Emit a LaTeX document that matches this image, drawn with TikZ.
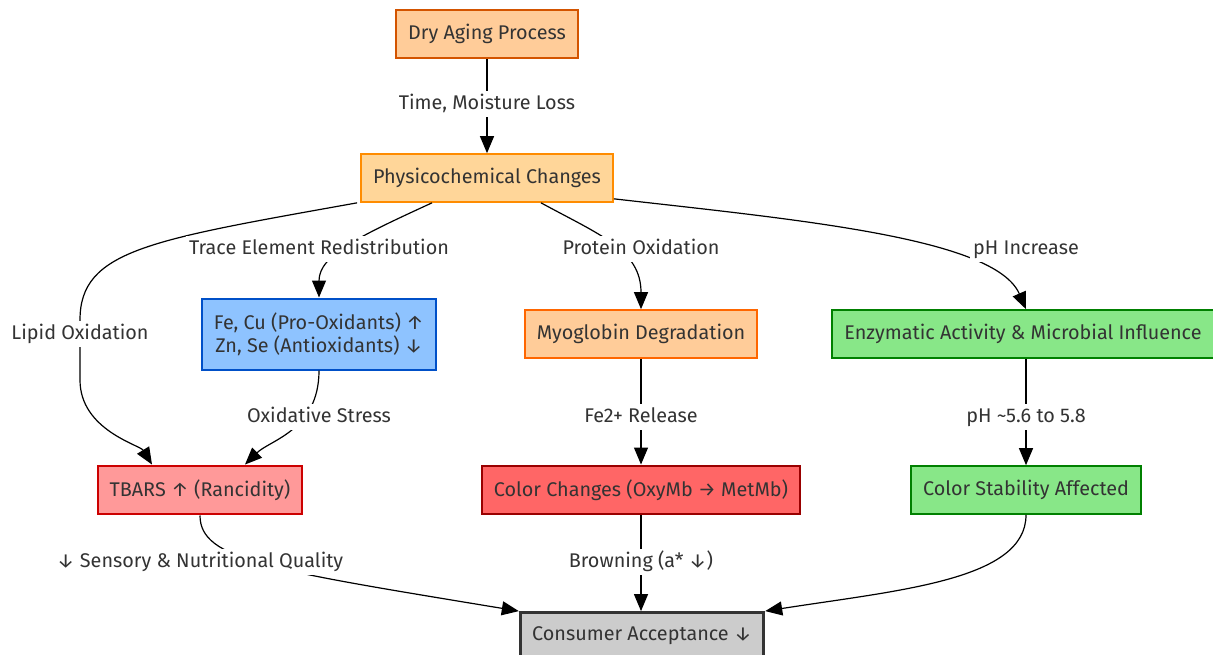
\documentclass[tikz,border=0pt]{standalone}
\usepackage{fontspec}
\setmainfont{Fira Sans}
\usetikzlibrary{arrows.meta, calc}

\definecolor{txtgray}{HTML}{333333}
\definecolor{peach}{HTML}{FFCC99}
\definecolor{peachlight}{HTML}{FFD699}
\definecolor{rust}{HTML}{D35400}
\definecolor{orangeline}{HTML}{FF8C00}
\definecolor{orangedark}{HTML}{FF6600}
\definecolor{skyfill}{HTML}{8EC3FF}
\definecolor{skyline}{HTML}{0050C8}
\definecolor{mintfill}{HTML}{88E788}
\definecolor{mintline}{HTML}{008000}
\definecolor{rosefill}{HTML}{FF9999}
\definecolor{roseline}{HTML}{CC0000}
\definecolor{redfill}{HTML}{FF6666}
\definecolor{redline}{HTML}{990000}
\definecolor{greyfill}{HTML}{CCCCCC}

\begin{document}
\begin{tikzpicture}[x=0.5pt, y=-0.5pt,
	box/.style={draw, line width=1pt, text=txtgray, font=\fontsize{9.9}{11.5}\selectfont,
		inner xsep=6pt, inner ysep=7pt, minimum height=23.5pt, align=center},
	lbl/.style={fill=white, text=txtgray, font=\fontsize{9.9}{11.5}\selectfont, inner sep=1.5pt,
		text height=7.5pt, text depth=2.3pt},
	arr/.style={-{Triangle[width=7pt,length=8.5pt]}, line width=0.6pt, black}]
	\useasboundingbox (0,0) rectangle (1213,654);
	% boxes
	\node[box, fill=peach, draw=rust] (dry) at (487,34) {Dry Aging Process};
	\node[box, fill=peachlight, draw=orangeline] (phys) at (487,178) {Physicochemical Changes};
	\node[box, fill=skyfill, draw=skyline] (trace) at (319,334) {Fe, Cu (Pro-Oxidants) ↑\\Zn, Se (Antioxidants) ↓};
	\node[box, fill=peach, draw=orangedark] (myo) at (641,334) {Myoglobin Degradation};
	\node[box, fill=mintfill, draw=mintline] (enz) at (1023,334) {Enzymatic Activity \& Microbial Influence};
	\node[box, fill=rosefill, draw=roseline] (tbars) at (200,490) {TBARS ↑ (Rancidity)};
	\node[box, fill=redfill, draw=redline] (color) at (641,490) {Color Changes (OxyMb → MetMb)};
	\node[box, fill=mintfill, draw=mintline] (stab) at (1026,490) {Color Stability Affected};
	\node[box, fill=greyfill, draw=txtgray, line width=1.4pt] (cons) at (642,636) {Consumer Acceptance ↓};
	% label spots
	\coordinate (lTime) at (487,104);
	\coordinate (lTrace) at (319,249);
	\coordinate (lProt) at (641,249);
	\coordinate (lPh) at (1026,249);
	\coordinate (lLipid) at (80,334);
	\coordinate (lStress) at (319,417);
	\coordinate (lFe) at (641,417);
	\coordinate (lRange) at (1026,417);
	\coordinate (lSens) at (200,562);
	\coordinate (lBrown) at (641,562);
	% connectors
	\draw[arr] (dry) -- (phys);
	\draw[arr] ($(phys.south)+(-55,0)$) .. controls (360,236) and (319,255) .. (trace.north);
	\draw[arr] ($(phys.south west)+(-3,0)$) .. controls (150,240) and (80,250) .. (80,320)
		-- (80,380) .. controls (80,430) and (140,445) .. ($(tbars.north)+(-48,0)$);
	\draw[arr] (trace.south) .. controls (319,430) and (270,440) .. ($(tbars.north)+(45,0)$);
	\draw[arr] ($(phys.south)+(54,0)$) .. controls (600,235) and (641,250) .. (myo.north);
	\draw[arr] ($(phys.south east)+(0,-4)$) .. controls (800,220) and (995,238) .. ($(enz.north)+(3,0)$);
	\draw[arr] (myo) -- (color);
	\draw[arr] ($(enz.south)+(3,0)$) -- (stab);
	\draw[arr] (tbars.south) .. controls (200,560) and (270,570) .. (cons.north west);
	\draw[arr] (color.south) -- ($(cons.north)+(-1,0)$);
	\draw[arr] (stab.south) .. controls (1026,580) and (900,590) .. (cons.north east);
	% edge labels
	\node[lbl] (tTime) at (lTime) {Time, Moisture Loss};
	\node[lbl] (tTrace) at (lTrace) {Trace Element Redistribution};
	\node[lbl] (tProt) at (lProt) {Protein Oxidation};
	\node[lbl] (tPh) at (lPh) {pH Increase};
	\node[lbl] (tLipid) at (lLipid) {Lipid Oxidation};
	\node[lbl] (tStress) at (lStress) {Oxidative Stress};
	\node[lbl] (tFe) at (lFe) {Fe2+ Release};
	\node[lbl] (tRange) at (lRange) {pH \textasciitilde5.6 to 5.8};
	\node[lbl] (tSens) at (lSens) {↓ Sensory \& Nutritional Quality};
	\node[lbl] (tBrown) at (lBrown) {Browning (a* ↓)};
\end{tikzpicture}
\end{document}
